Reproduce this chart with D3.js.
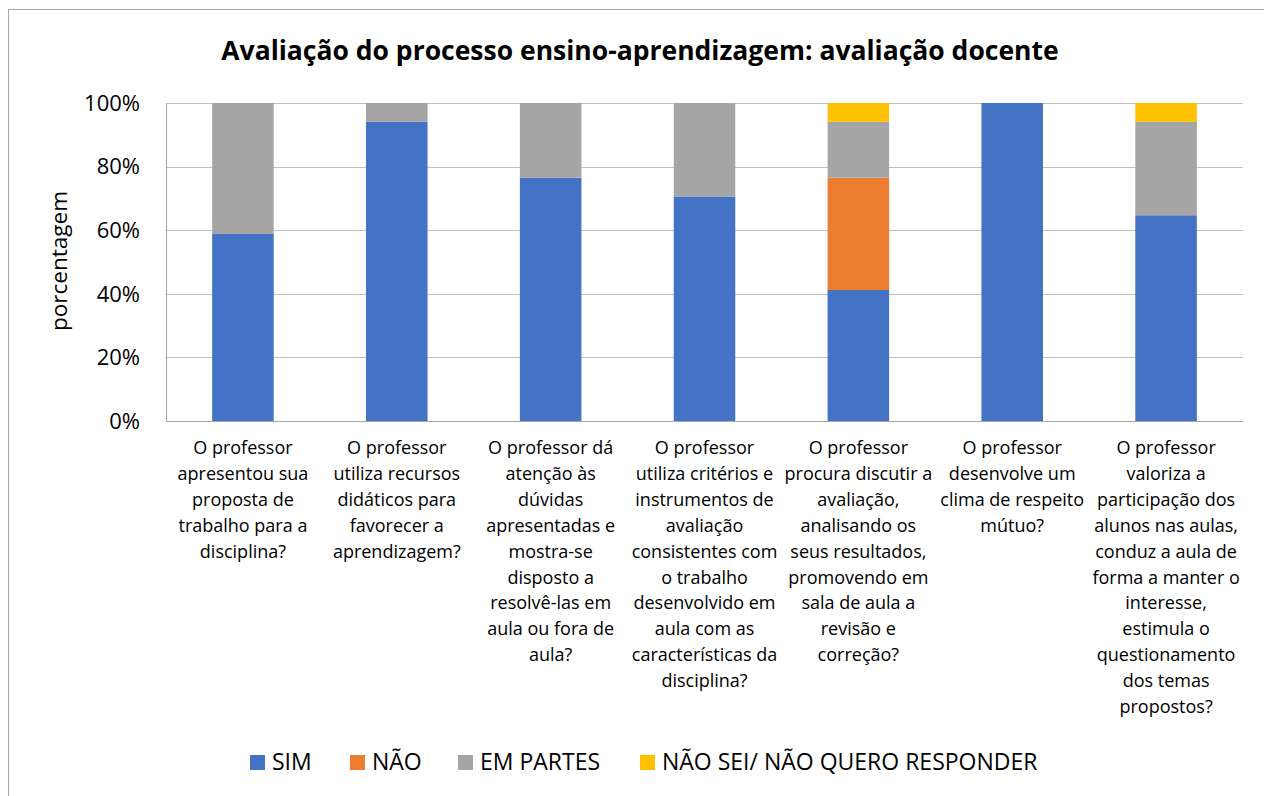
<!DOCTYPE html>
<html>
<head>
  <script src="https://d3js.org/d3.v7.min.js"></script>
  <style>
    body { margin: 0; background: #fff; }
    text { font-family: "Open Sans", sans-serif; fill: #000; }
  </style>
</head>
<body>
  <svg id="chart"></svg>
  <script>
    var categories = [
      ["O professor", "apresentou sua", "proposta de", "trabalho para a", "disciplina?"],
      ["O professor", "utiliza recursos", "didáticos para", "favorecer a", "aprendizagem?"],
      ["O professor dá", "atenção às", "dúvidas", "apresentadas e", "mostra-se", "disposto a", "resolvê-las em", "aula ou fora de", "aula?"],
      ["O professor", "utiliza critérios e", "instrumentos de", "avaliação", "consistentes com", "o trabalho", "desenvolvido em", "aula com as", "características da", "disciplina?"],
      ["O professor", "procura discutir a", "avaliação,", "analisando os", "seus resultados,", "promovendo em", "sala de aula a", "revisão e", "correção?"],
      ["O professor", "desenvolve um", "clima de respeito", "mútuo?"],
      ["O professor", "valoriza a", "participação dos", "alunos nas aulas,", "conduz a aula de", "forma a manter o", "interesse,", "estimula o", "questionamento", "dos temas", "propostos?"]
    ];
    var seriesNames = ["SIM", "NÃO", "EM PARTES", "NÃO SEI/ NÃO QUERO RESPONDER"];
    var sim      = [58.8, 94.1, 76.5, 70.6, 41.2, 100, 64.7];
    var nao      = [0, 0, 0, 0, 35.3, 0, 0];
    var emPartes = [41.2, 5.9, 23.5, 29.4, 17.6, 0, 29.4];
    var naoSei   = [0, 0, 0, 0, 5.9, 0, 5.9];
    var yTicks = [0, 20, 40, 60, 80, 100];
    var colors = ["#4472C4", "#ED7D31", "#A5A5A5", "#FFC000"];

    var width = 1264, height = 796;
    var margin = {left: 166, right: 21, top: 103, bottom: 375};

    var svg = d3.select("#chart").attr("width", width).attr("height", height);

    // frame
    svg.append("rect")
       .attr("x", 8.5).attr("y", 9.5)
       .attr("width", width).attr("height", height)
       .attr("fill", "none").attr("stroke", "#A6A6A6");

    var rows = categories.map(function(c, i) {
      return {i: i, "SIM": sim[i], "NÃO": nao[i], "EM PARTES": emPartes[i], "NÃO SEI/ NÃO QUERO RESPONDER": naoSei[i]};
    });
    var stacked = d3.stack().keys(seriesNames)(rows);

    var x = d3.scaleBand()
              .domain(d3.range(categories.length))
              .range([margin.left, width - margin.right])
              .paddingInner(0.6).paddingOuter(0.3);
    var y = d3.scaleLinear()
              .domain([0, 100])
              .range([height - margin.bottom, margin.top]);

    // gridlines
    svg.append("g")
       .selectAll("line")
       .data(yTicks)
       .join("line")
       .attr("x1", margin.left).attr("x2", width - margin.right)
       .attr("y1", function(d) { return Math.round(y(d)) + 0.5; })
       .attr("y2", function(d) { return Math.round(y(d)) + 0.5; })
       .attr("stroke", function(d) { return d === 0 ? "#A6A6A6" : "#BFBFBF"; })
       .attr("stroke-width", 1);
    svg.append("line")
       .attr("x1", margin.left + 0.5).attr("x2", margin.left + 0.5)
       .attr("y1", y(100)).attr("y2", y(0))
       .attr("stroke", "#A6A6A6");

    // y tick labels
    svg.append("g")
       .selectAll("text")
       .data(yTicks)
       .join("text")
       .attr("x", 140)
       .attr("y", function(d) { return y(d); })
       .attr("dy", "0.35em")
       .attr("text-anchor", "end")
       .style("font-size", "22px")
       .text(function(d) { return d + "%"; });

    // bars
    svg.append("g")
       .selectAll("g")
       .data(stacked)
       .join("g")
       .attr("fill", function(d, i) { return colors[i]; })
       .selectAll("rect")
       .data(function(d) { return d; })
       .join("rect")
       .attr("x", function(d) { return x(d.data.i); })
       .attr("width", x.bandwidth())
       .attr("y", function(d) { return y(d[1]); })
       .attr("height", function(d) { return y(d[0]) - y(d[1]); });

    // category labels
    var lab = svg.append("g")
       .selectAll("text")
       .data(categories)
       .join("text")
       .attr("text-anchor", "middle")
       .style("font-size", "18px")
       .attr("transform", function(d, i) {
         return "translate(" + (x(i) + x.bandwidth() / 2) + ",454)";
       });
    lab.selectAll("tspan")
       .data(function(d) { return d; })
       .join("tspan")
       .attr("x", 0)
       .attr("y", function(d, j) { return j * 25.9; })
       .text(function(d) { return d; });

    // title
    svg.append("text")
       .attr("x", 640).attr("y", 60)
       .attr("text-anchor", "middle")
       .style("font-size", "26.5px").style("font-weight", "bold")
       .text("Avaliação do processo ensino-aprendizagem: avaliação docente");

    // y axis title
    svg.append("text")
       .attr("transform", "translate(67,261) rotate(-90)")
       .attr("text-anchor", "middle")
       .style("font-size", "22.5px")
       .text("porcentagem");

    // legend
    var legendX = [250, 350, 458, 640];
    var leg = svg.append("g")
       .selectAll("g")
       .data(seriesNames)
       .join("g")
       .attr("transform", function(d, i) { return "translate(" + legendX[i] + ",762)"; });
    leg.append("rect")
       .attr("x", 0).attr("y", -7)
       .attr("width", 15).attr("height", 15)
       .attr("fill", function(d, i) { return colors[i]; });
    leg.append("text")
       .attr("x", 22).attr("y", 0)
       .attr("dy", "0.36em")
       .style("font-size", "23px")
       .text(function(d) { return d; });
  </script>
</body>
</html>
